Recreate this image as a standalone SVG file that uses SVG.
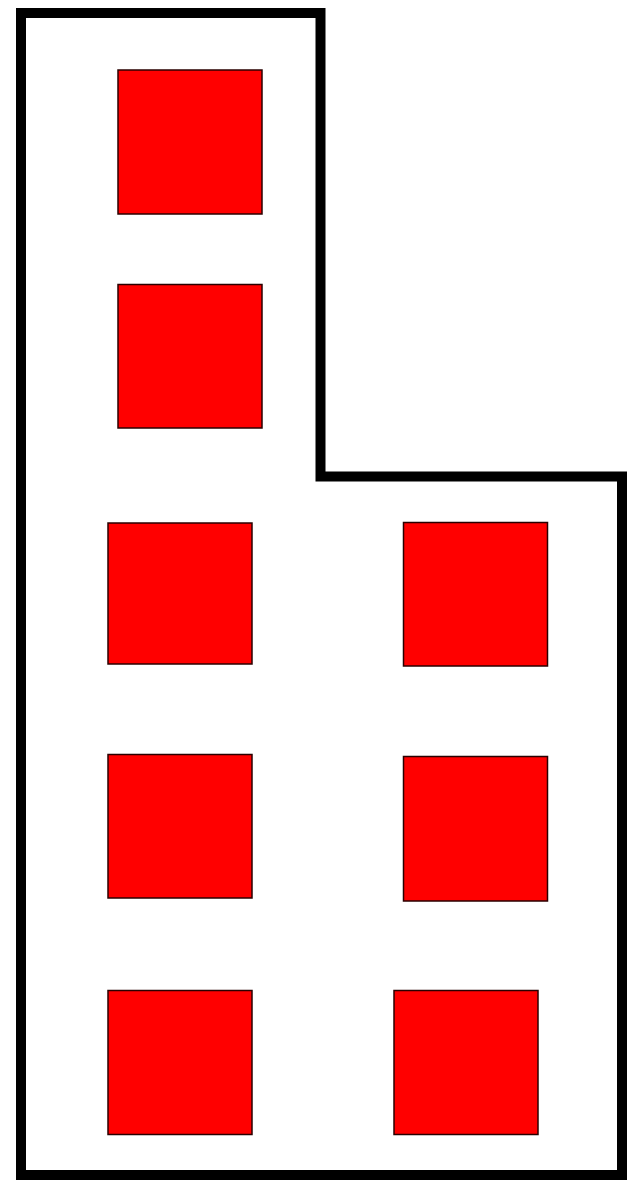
<svg xmlns="http://www.w3.org/2000/svg" width="635" height="1182" viewBox="0 0 635 1182">
<style>
.room{fill:#fff;stroke:#000;stroke-width:10;stroke-linejoin:miter}
.box{fill:#ff0000;stroke:#2a0000;stroke-width:1.5}
</style>
<rect width="635" height="1182" fill="#fff"/>
<g id="outline"><path class="room" d="M21,13 L320.5,13 L320.5,476.5 L622,476.5 L622,1175 L21,1175 Z"/></g>
<g id="box1"><rect class="box" x="118" y="70" width="144" height="144"/></g>
<g id="box2"><rect class="box" x="118" y="284.5" width="144" height="143.5"/></g>
<g id="box3"><rect class="box" x="108" y="523" width="144" height="141"/></g>
<g id="box4"><rect class="box" x="403.5" y="522.5" width="144" height="143.5"/></g>
<g id="box5"><rect class="box" x="108" y="754.5" width="144" height="143.5"/></g>
<g id="box6"><rect class="box" x="403.5" y="756.5" width="144" height="144.5"/></g>
<g id="box7"><rect class="box" x="108" y="990.5" width="144" height="144"/></g>
<g id="box8"><rect class="box" x="394" y="990.5" width="144" height="144"/></g>
<g id="connectors"/>
</svg>
